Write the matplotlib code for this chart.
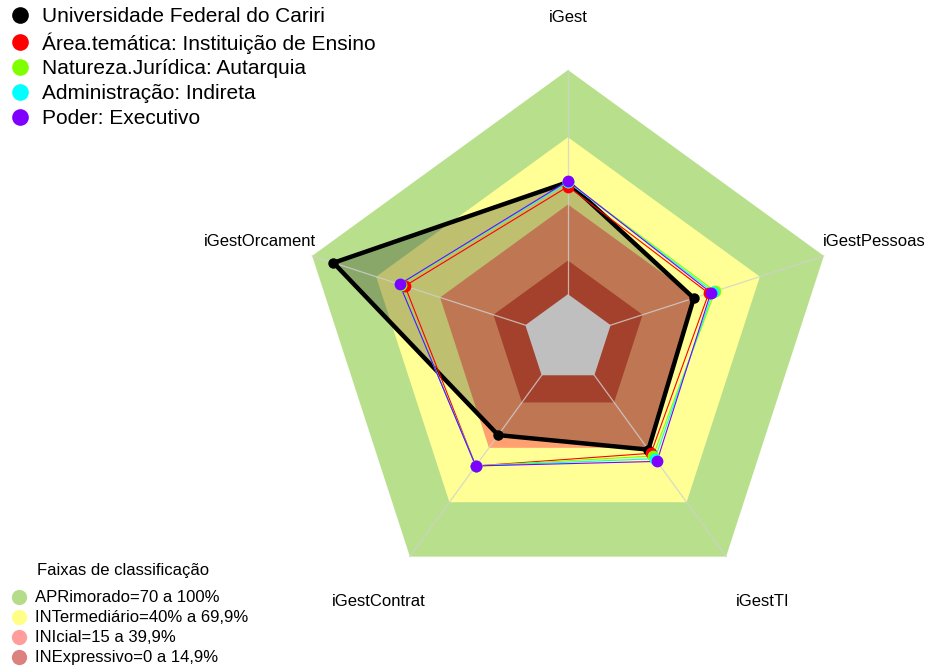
import numpy as np
import matplotlib.pyplot as plt
from matplotlib.lines import Line2D

plt.rcParams['font.family'] = ['Liberation Sans', 'DejaVu Sans']

# eixos do radar (sentido horário a partir do topo)
eixos = ['iGest', 'iGestPessoas', 'iGestTI', 'iGestContrat', 'iGestOrcament']

# séries (proporção 0 a 1)
nomes = ['Universidade Federal do Cariri',
         'Área.temática: Instituição de Ensino',
         'Natureza.Jurídica: Autarquia',
         'Administração: Indireta',
         'Poder: Executivo']
ufca = [0.50, 0.39, 0.41, 0.33, 0.90]
area = [0.48, 0.46, 0.43, 0.50, 0.565]
natureza = [0.50, 0.49, 0.445, 0.50, 0.585]
administracao = [0.50, 0.48, 0.46, 0.50, 0.59]
poder = [0.505, 0.47, 0.475, 0.50, 0.59]
series = [ufca, area, natureza, administracao, poder]
cores = ['#000000', '#ff0000', '#80ff00', '#00ffff', '#8000ff']

# faixas de classificação
faixas_nomes = ['APRimorado=70 a 100%', 'INTermediário=40% a 69,9%',
                'INIcial=15 a 39,9%', 'INExpressivo=0 a 14,9%']
faixas_lim = [1.0, 0.70, 0.40, 0.15]
faixas_cor = ['#b8e08c', '#ffff96', '#ffa070', '#dc573c']
faixas_leg = ['#b5dc88', '#ffff88', '#ff9c9c', '#dc8080']

# geometria (pixels da figura)
W, H = 928, 667
cx, cy, R = 568, 339, 269
seg = 5

fig = plt.figure(figsize=(W / 100, H / 100), dpi=100)
ax = fig.add_axes([0, 0, 1, 1])
ax.set_xlim(-cx / R, (W - cx) / R)
ax.set_ylim(-(H - cy) / R, cy / R)
ax.axis('off')

n = len(eixos)
ang = np.pi / 2 - np.arange(n) * 2 * np.pi / n


def raio(v):
    # escala tipo fmsb: centro vazio de 1/(seg+1)
    return (1 + seg * np.asarray(v, dtype=float)) / (seg + 1)


def poligono(v):
    r = raio(v)
    return r * np.cos(ang), r * np.sin(ang)


# faixas
for lim, cor in zip(faixas_lim, faixas_cor):
    x, y = poligono([lim] * n)
    ax.fill(x, y, color=cor, lw=0, zorder=1)

# preenchimento da série principal
x, y = poligono(ufca)
ax.fill(x, y, color='black', alpha=0.25, lw=0, zorder=2)

# centro cinza
x, y = poligono([0] * n)
ax.fill(x, y, color='#bfbfbf', lw=0, zorder=3)

# eixos
r0, r1 = raio(0), raio(1)
for a in ang:
    ax.plot([r0 * np.cos(a), r1 * np.cos(a)], [r0 * np.sin(a), r1 * np.sin(a)],
            color='#d0d0d0', lw=0.9, alpha=0.8, zorder=3)

# séries
larguras = [3.2, 0.8, 0.8, 0.8, 0.8]
tamanhos = [7.5, 8.5, 8.5, 8.5, 8.5]
for i, (v, cor) in enumerate(zip(series, cores)):
    x, y = poligono(v)
    ax.plot(np.append(x, x[0]), np.append(y, y[0]), color=cor, lw=larguras[i],
            zorder=4 + i)
    ax.plot(x, y, 'o', color=cor, ms=tamanhos[i], mec='none', zorder=10 + i)

# rótulos dos eixos
rot_pos = [(568, 17, 'center'), (823, 241, 'left'), (763, 601, 'center'),
           (379, 601, 'center'), (316, 241, 'right')]
for nome, (px, py, ha) in zip(eixos, rot_pos):
    fig.text(px / W, 1 - py / H, nome, ha=ha, va='center', fontsize=12)

# legenda das séries
h1 = [Line2D([], [], ls='none', marker='o', ms=12, color=c, mec='none') for c in cores]
fig.legend(h1, nomes, loc='upper left', bbox_to_anchor=(2 / W, 1 - 1 / H),
           frameon=False, fontsize=15, handletextpad=0.5, borderpad=0.3,
           labelspacing=0.28, handlelength=1.1, borderaxespad=0)

# legenda das faixas
fig.text(123 / W, 1 - 570 / H, 'Faixas de classificação', ha='center',
         va='center', fontsize=12)
h2 = [Line2D([], [], ls='none', marker='o', ms=11, color=c, mec='none') for c in faixas_leg]
fig.legend(h2, faixas_nomes, loc='lower left', bbox_to_anchor=(8 / W, 0),
           frameon=False, fontsize=12, handletextpad=0.4, borderpad=0.1,
           labelspacing=0.3, handlelength=1.1, borderaxespad=0)

fig.savefig('out.png', dpi=100)
